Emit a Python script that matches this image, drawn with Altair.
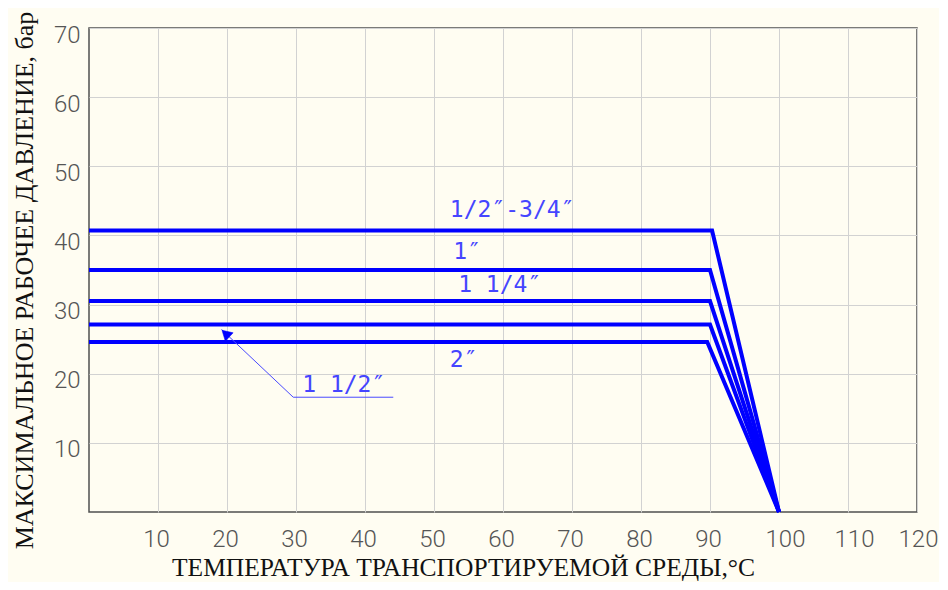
import altair as alt
import pandas as pd

# ---- data ----
sizes = ["1/2″-3/4″", "1″", "1 1/4″", "1 1/2″", "2″"]
pressures = [40.7, 35.0, 30.5, 27.1, 24.6]
bend_temps = [90.3, 90.0, 90.0, 90.0, 89.6]
start_temp = 0
end_temp = 100
end_pressure = 0

x_ticks = [10, 20, 30, 40, 50, 60, 70, 80, 90, 100, 110, 120]
y_ticks = [10, 20, 30, 40, 50, 60, 70]

# annotation labels (text and anchor in data units)
label_text = ["1/2″-3/4″", "1″", "1 1/4″", "2″", "1 1/2″"]
label_x = [52.3, 52.8, 53.5, 52.3, 30.9]
label_y = [43.7, 37.6, 32.8, 22.0, 18.4]

# leader for "1 1/2″"
leader_x = [44.1, 29.6, 19.2]
leader_y = [16.6, 16.6, 26.4]
arrow_x = [19.8]
arrow_y = [25.8]

rows = []
for s, p, b in zip(sizes, pressures, bend_temps):
    rows.append({"size": s, "t": start_temp, "p": p, "o": 0})
    rows.append({"size": s, "t": b, "p": p, "o": 1})
    rows.append({"size": s, "t": end_temp, "p": end_pressure, "o": 2})
df = pd.DataFrame(rows)

xs = alt.Scale(domain=[0, 120], nice=False, zero=False)
ys = alt.Scale(domain=[0, 70], nice=False, zero=False)

TICK_FONT = "Roboto"
NOTE_FONT = "DejaVu Sans Mono"

x_axis = alt.Axis(
    values=x_ticks, title="ТЕМПЕРАТУРА ТРАНСПОРТИРУЕМОЙ СРЕДЫ,°C",
    domain=False, ticks=False, tickSize=0, grid=True, gridColor="#d2d2d2",
    labelFont=TICK_FONT, labelFontWeight=300, labelFontSize=24, labelColor="#555555",
    labelBaseline="middle", labelPadding=27, labelFlush=False,
    labelOffset={"condition": [
        {"test": "datum.value == 120", "value": 1},
        {"test": "datum.value >= 100", "value": 6},
    ], "value": -2},
    titleFont="Liberation Serif", titleFontSize=25.5, titleFontWeight="normal",
    titleColor="#111111", titleX=374, titleY=63, titleBaseline="alphabetic",
    titleAlign="center",
)
y_axis = alt.Axis(
    values=y_ticks, title="МАКСИМАЛЬНОЕ РАБОЧЕЕ ДАВЛЕНИЕ, бар",
    domain=False, ticks=False, tickSize=0, grid=True, gridColor="#d2d2d2",
    labelFont=TICK_FONT, labelFontWeight=300, labelFontSize=24, labelColor="#555555",
    labelBaseline="middle", labelPadding=9, labelOffset=7,
    titleFont="Liberation Serif", titleFontSize=26, titleFontWeight="normal",
    titleColor="#111111", titleX=-65, titleY=252, titleBaseline="middle",
    titleAlign="center", titleAngle=-90,
)

lines = alt.Chart(df).mark_line(color="#0000ff", strokeWidth=4, strokeJoin="miter").encode(
    x=alt.X("t:Q", scale=xs, axis=x_axis),
    y=alt.Y("p:Q", scale=ys, axis=y_axis),
    detail="size:N",
    order="o:Q",
)

lab_df = pd.DataFrame({"text": label_text, "x": label_x, "y": label_y})
labels = alt.Chart(lab_df).mark_text(
    align="left", baseline="middle", font=NOTE_FONT,
    fontSize=23, color="#4545ff",
).encode(x=alt.X("x:Q", scale=xs), y=alt.Y("y:Q", scale=ys), text="text:N")

lead_df = pd.DataFrame({"x": leader_x, "y": leader_y, "o": [0, 1, 2]})
leader = alt.Chart(lead_df).mark_line(color="#4a4aff", strokeWidth=1).encode(
    x=alt.X("x:Q", scale=xs), y=alt.Y("y:Q", scale=ys), order="o:Q"
)
arr_df = pd.DataFrame({"x": arrow_x, "y": arrow_y})
arrow = alt.Chart(arr_df).mark_point(
    shape="triangle-up", size=130, filled=True, fill="#0000ff", stroke="#0000ff",
    strokeWidth=0.5, opacity=1, angle=313
).encode(x=alt.X("x:Q", scale=xs), y=alt.Y("y:Q", scale=ys))

chart = alt.layer(lines, leader, arrow, labels).properties(
    width=828, height=484,
    padding={"left": 81, "top": 20, "right": 22, "bottom": 70},
    autosize="none",
    background="#fffdf2",
).configure_view(stroke="#505050", strokeWidth=1.5)

chart.save("out.html", embed_options={"renderer": "svg", "actions": False})
